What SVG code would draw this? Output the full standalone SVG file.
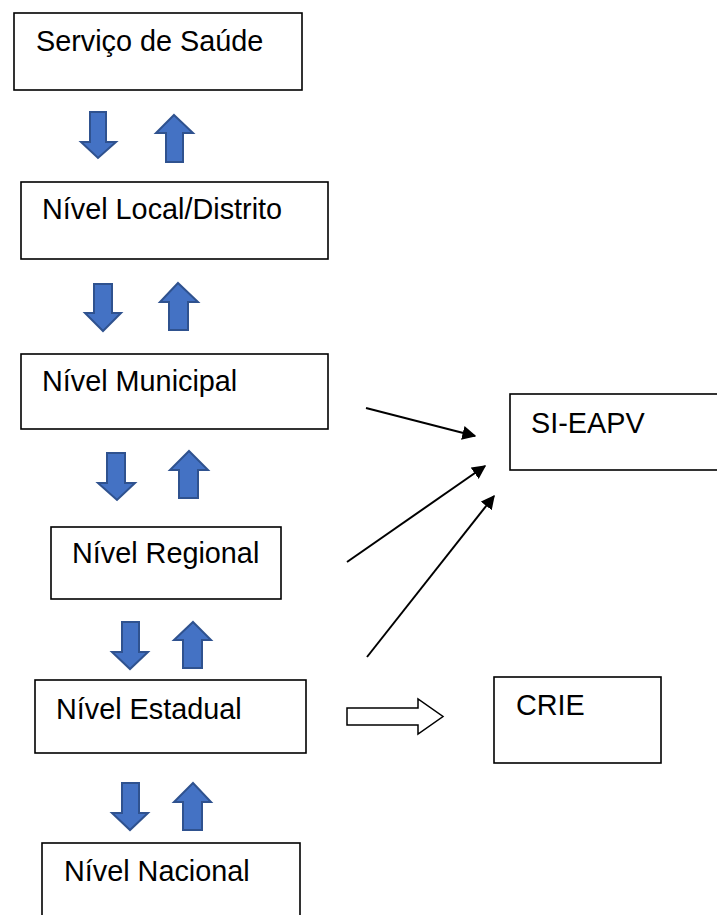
<svg xmlns="http://www.w3.org/2000/svg" width="717" height="915" viewBox="0 0 717 915">
<style>
.box{fill:#fff;stroke:#000;stroke-width:1.6}
.lbl{font-family:"Liberation Sans",Arial,sans-serif;font-size:28.8px;fill:#000}
.blk{fill:#4472C4;stroke:#2F528F;stroke-width:2;stroke-linejoin:miter}
.con{stroke:#000;stroke-width:2;fill:none}
.hol{fill:#fff;stroke:#000;stroke-width:1.5}
</style>
<defs>
<marker id="ah" viewBox="0 0 10 10" refX="9" refY="5" markerWidth="7" markerHeight="7" markerUnits="strokeWidth" orient="auto">
<path d="M0,0 L10,5 L0,10 z" fill="#000"/>
</marker>
</defs>
<rect width="717" height="915" fill="#fff"/>
<g id="n1"><rect class="box" x="14" y="13" width="288" height="77"/><text class="lbl" x="36" y="51">Serviço de Saúde</text></g>
<g id="n2"><rect class="box" x="21" y="182" width="307" height="77"/><text class="lbl" x="42" y="219">Nível Local/Distrito</text></g>
<g id="n3"><rect class="box" x="21" y="354" width="307" height="75"/><text class="lbl" x="42" y="391">Nível Municipal</text></g>
<g id="n4"><rect class="box" x="51" y="527" width="230" height="72"/><text class="lbl" x="72" y="563">Nível Regional</text></g>
<g id="n5"><rect class="box" x="35" y="680" width="271" height="73"/><text class="lbl" x="56" y="719">Nível Estadual</text></g>
<g id="n6"><rect class="box" x="42" y="843" width="258" height="80"/><text class="lbl" x="64" y="881">Nível Nacional</text></g>
<g id="n7"><rect class="box" x="510" y="394" width="220" height="76"/><text class="lbl" x="531" y="433">SI-EAPV</text></g>
<g id="n8"><rect class="box" x="494" y="677" width="167" height="86"/><text class="lbl" x="516" y="715">CRIE</text></g>
<g id="blockarrows">
<path class="blk" d="M90,112 H106 V142 H116 L98,158 L81,142 H90 Z"/>
<path class="blk" d="M174,115 L193,133 H183 V162 H166 V133 H156 Z"/>
<path class="blk" d="M94,284 H112 V313 H121 L103,331 L85,313 H94 Z"/>
<path class="blk" d="M178,283 L198,302 H188 V330 H169 V302 H160 Z"/>
<path class="blk" d="M107,453 H125 V483 H135 L117,500 L98,483 H107 Z"/>
<path class="blk" d="M189,451 L208,470 H198 V498 H179 V470 H170 Z"/>
<path class="blk" d="M122,622 H139 V652 H148 L130,669 L112,652 H122 Z"/>
<path class="blk" d="M193,622 L211,640 H202 V668 H183 V640 H174 Z"/>
<path class="blk" d="M122,783 H139 V813 H148 L130,830 L112,813 H122 Z"/>
<path class="blk" d="M193,783 L211,802 H202 V830 H183 V802 H174 Z"/>
</g>
<g id="connectors">
<line class="con" x1="366" y1="408" x2="475" y2="436" marker-end="url(#ah)"/>
<line class="con" x1="347" y1="562" x2="485" y2="466" marker-end="url(#ah)"/>
<line class="con" x1="367" y1="657" x2="494" y2="496" marker-end="url(#ah)"/>
<path class="hol" d="M347,708 H418 V699 L443,716.5 L418,734 V725 H347 Z"/>
</g>
</svg>
